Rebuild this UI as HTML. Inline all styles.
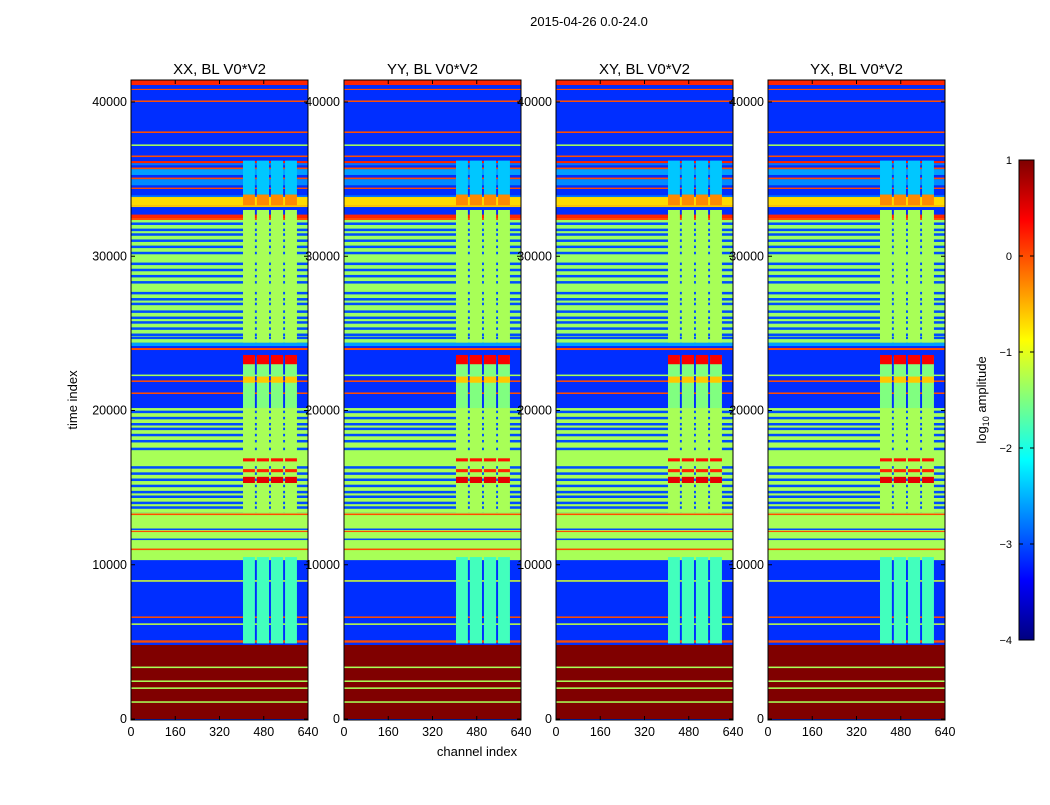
<!DOCTYPE html>
<html><head><meta charset="utf-8"><style>
body{margin:0;background:#fff;}
svg text{font-family:"Liberation Sans",sans-serif;}
</style></head><body>
<svg id="fig" width="1050" height="800" xmlns="http://www.w3.org/2000/svg">
<defs>
<linearGradient id="jetg" x1="0" y1="1" x2="0" y2="0">
<stop offset="0" stop-color="#00007f"/><stop offset="0.125" stop-color="#0000ff"/><stop offset="0.375" stop-color="#00ffff"/><stop offset="0.625" stop-color="#ffff00"/><stop offset="0.875" stop-color="#ff0000"/><stop offset="1" stop-color="#7f0000"/>
</linearGradient>
</defs>
<text x="589" y="26" font-size="13" text-anchor="middle">2015-04-26 0.0-24.0</text>
<text x="477" y="756" font-size="13" text-anchor="middle">channel index</text>
<text transform="translate(77,400) rotate(-90)" font-size="13" text-anchor="middle">time index</text>
<g id="panels"></g>
<g id="cbar"></g>
</svg>
<script>
// ---- data ----
const panelTitles = ["XX, BL V0*V2","YY, BL V0*V2","XY, BL V0*V2","YX, BL V0*V2"];
const xTicks = [0,160,320,480,640];
const yTicks = [0,10000,20000,30000,40000];
const cbarTicks = [1,0,-1,-2,-3,-4];
// full-width bands: [tStart, tEnd, log10 amplitude]
const bandStart = [0,1050,1950,2400,3300,4800,4950,6100,6550,8900,10300,10950,11600,12120,12250,13220,13400,20160,21070,21850,22230,23920,24180,24400,32350,32480,33000,33190,33320,33840,34360,34600,35000,35270,35650,35900,36040,36430,36600,37150,37990,38100,40000,40780,41100];
const bandEnd   = [4800,1150,2050,2500,3400,10300,5100,6200,6650,9000,13400,11050,11700,12200,12350,13320,20160,24180,21170,21950,22330,24050,24400,32350,32480,32700,33190,33320,33840,33950,34450,35000,35100,35650,35750,36040,36170,36530,37150,37250,38100,40000,40100,40850,41500];
const bandValue = [1,-1.3,-1.3,-1.3,-1.3,-3.15,0,-1.2,0,-1.1,-1.3,0,-3,0,-3,0,-1.3,-3.15,0,0,-1.3,0,-2.6,-1.35,0,0.2,-3.15,-0.6,-0.7,-2.8,0,-2.7,0,-2.6,0,-2.8,0.2,0,-3.15,-1.3,0,-3.15,0,0,0.2];
// thin low-amplitude stripes inside green regions
const blueLine = [32100,31700,31400,31000,30600,30200,29500,29100,28700,28300,27600,27200,26900,26400,26000,25700,25300,24900,24700,19900,19500,19100,18800,18400,18000,17500,16300,15900,15500,15100,14700,14400,14000,13700];
// channel column blocks
const colStart = [405,455,506,557];
const colEnd = [448,499,550,600];
const blockStart = [4900,13400,20160,24400,34000,33300,21800,23000,15300,16700,16000];
const blockEnd   = [10500,20160,23500,33000,36200,34000,22200,23600,15700,16900,16200];
const blockValue = [-1.8,-1.3,-1.5,-1.3,-2.4,-0.3,-0.6,0.4,0.5,0.3,0.2];

function jet(v){
  const n=Math.max(0,Math.min(1,(v+4)/5));
  const c=x=>Math.round(255*Math.max(0,Math.min(1,1.5-Math.abs(x))));
  return `rgb(${c(4*n-3)},${c(4*n-2)},${c(4*n-1)})`;
}
const NS="http://www.w3.org/2000/svg";
function mk(tag,attrs,parent){const e=document.createElementNS(NS,tag);for(const k in attrs)e.setAttribute(k,attrs[k]);parent.appendChild(e);return e;}
const panelX=[131,344,556,768], PW=177, PT=80, PB=720;
const tMax=(719-80)/617*40000;
const ys=t=>719-t*617/40000;
const xs=(x0,c)=>x0+c/640*PW;
const root=document.getElementById('panels');
panelX.forEach((x0,pi)=>{
  const g=mk('g',{},root);
  
  
  const clip=mk('clipPath',{id:'cp'+pi},g);
  mk('rect',{x:x0,y:PT,width:PW,height:PB-PT},clip);
  const body=mk('g',{'clip-path':`url(#cp${pi})`},g);
  mk('rect',{x:x0,y:PT,width:PW,height:PB-PT,fill:jet(-3.15)},body);
  for(let i=0;i<bandStart.length;i++){
    const y1=ys(Math.min(bandEnd[i],tMax)),y0=ys(bandStart[i]);
    const r=mk('rect',{x:x0,y:y1,width:PW,height:Math.max(1,y0-y1),fill:jet(bandValue[i])},body);
    
    
  }
  blueLine.forEach(t=>{
    const r=mk('rect',{x:x0,y:ys(t+90),width:PW,height:2.5,fill:jet(-3.0)},body);
    
    
  });
  for(let b=0;b<blockStart.length;b++){
    for(let c=0;c<colStart.length;c++){
      const y1=ys(blockEnd[b]),y0=ys(blockStart[b]);
      const r=mk('rect',{x:xs(x0,colStart[c]),y:y1,width:xs(x0,colEnd[c])-xs(x0,colStart[c]),height:Math.max(1,y0-y1),fill:jet(blockValue[b])},body);
      
      
    }
  }
  mk('rect',{x:x0,y:PT,width:PW,height:PB-PT,fill:'none',stroke:'#000','stroke-width':1},g);
  const tt=mk('text',{x:x0+PW/2,y:74,'font-size':15,'text-anchor':'middle'},g);
  tt.textContent=panelTitles[pi];
  
  
  xTicks.forEach(v=>{
    const x=xs(x0,v);
    mk('line',{x1:x,x2:x,y1:PB,y2:PB-4,stroke:'#000'},g);
    mk('line',{x1:x,x2:x,y1:PT,y2:PT+4,stroke:'#000'},g);
    const t=mk('text',{x:x,y:PB+16,'font-size':12.5,'text-anchor':'middle'},g);
    t.textContent=v;
    
    
  });
  yTicks.forEach(v=>{
    const y=ys(v);
    mk('line',{x1:x0,x2:x0+4,y1:y,y2:y,stroke:'#000'},g);
    mk('line',{x1:x0+PW,x2:x0+PW-4,y1:y,y2:y,stroke:'#000'},g);
    const t=mk('text',{x:x0-4,y:y+4,'font-size':12.5,'text-anchor':'end'},g);
    t.textContent=v;
    
    
  });
});
// colorbar
const cb=document.getElementById('cbar');
const CX=1019,CW=15,CT=160,CB=640;
const bar=mk('rect',{x:CX,y:CT,width:CW,height:CB-CT,fill:'url(#jetg)',stroke:'#000'},cb);


const cy=v=>CB-(v+4)/5*(CB-CT);
cbarTicks.forEach(v=>{
  mk('line',{x1:CX,x2:CX+4,y1:cy(v),y2:cy(v),stroke:'#000'},cb);
  mk('line',{x1:CX+CW,x2:CX+CW-4,y1:cy(v),y2:cy(v),stroke:'#000'},cb);
  const t=mk('text',{x:1012,y:cy(v)+4,'font-size':11,'text-anchor':'end'},cb);
  t.textContent=v<0?'\u2212'+(-v):String(v);
  
  
});
const lab=mk('text',{transform:'translate(986,400) rotate(-90)','font-size':13,'text-anchor':'middle'},cb);
lab.innerHTML='log<tspan font-size="9" dy="3">10</tspan><tspan dy="-3"> amplitude</tspan>';


</script>
</body></html>
